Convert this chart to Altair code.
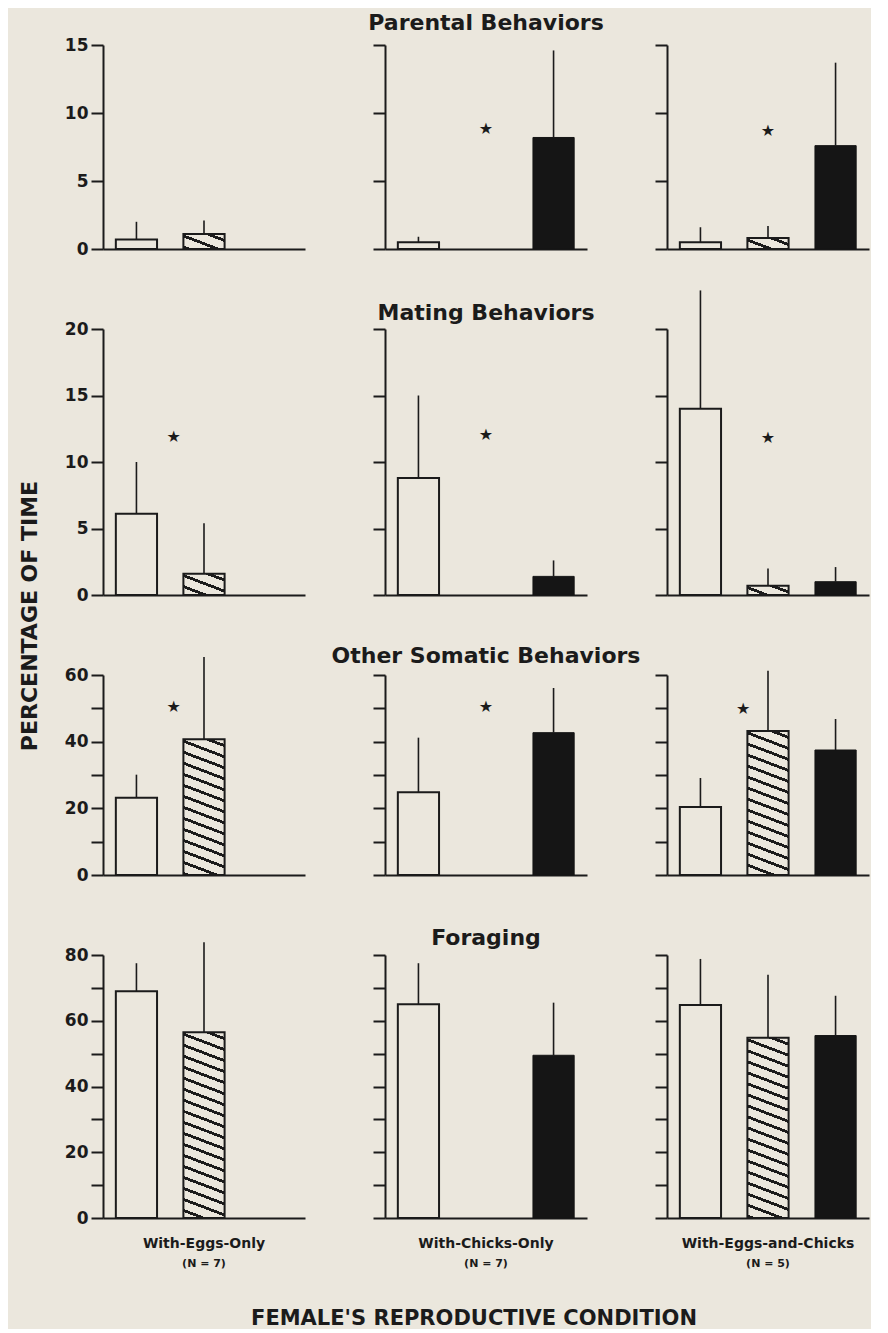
import math
import altair as alt
import pandas as pd

BG = "#ebe7dd"
INK = "#1b1b1b"
FONT = "DejaVu Sans"

ROW_TITLES = ["Parental Behaviors", "Mating Behaviors", "Other Somatic Behaviors", "Foraging"]
COLUMN_LABELS = ["With-Eggs-Only", "With-Chicks-Only", "With-Eggs-and-Chicks"]
COLUMN_N = ["(N = 7)", "(N = 7)", "(N = 5)"]
BAR_KINDS = ["open", "hatched", "solid"]
Y_MAX = [15, 20, 60, 80]
Y_TICK_STEP = [5, 5, 10, 10]
Y_LABEL_STEP = [5, 5, 20, 20]
Y_TITLE = "PERCENTAGE OF TIME"
X_TITLE = "FEMALE'S REPRODUCTIVE CONDITION"

# mean and top of error bar, per column, per bar kind (open, hatched, solid)
parental_mean = [[0.7, 1.1, None], [0.5, None, 8.2], [0.5, 0.8, 7.6]]
parental_upper = [[2.0, 2.1, None], [0.9, None, 14.6], [1.6, 1.7, 13.7]]
mating_mean = [[6.1, 1.6, None], [8.8, None, 1.4], [14.0, 0.7, 1.0]]
mating_upper = [[10.0, 5.4, None], [15.0, None, 2.6], [22.9, 2.0, 2.1]]
somatic_mean = [[23.2, 40.7, None], [24.8, None, 42.7], [20.4, 43.2, 37.5]]
somatic_upper = [[30.1, 65.4, None], [41.2, None, 56.1], [29.1, 61.3, 46.8]]
foraging_mean = [[69.0, 56.5, None], [65.0, None, 49.5], [64.8, 54.8, 55.5]]
foraging_upper = [[77.5, 83.9, None], [77.5, None, 65.5], [78.8, 74.0, 67.6]]

# significance stars: (slot position 0..3, value) per column
parental_star = [None, (1.5, 8.8), (1.5, 8.7)]
mating_star = [(1.05, 11.9), (1.5, 12.0), (1.5, 11.8)]
somatic_star = [(1.05, 50.3), (1.5, 50.3), (1.13, 49.8)]
foraging_star = [None, None, None]

MEANS = [parental_mean, mating_mean, somatic_mean, foraging_mean]
UPPERS = [parental_upper, mating_upper, somatic_upper, foraging_upper]
STARS = [parental_star, mating_star, somatic_star, foraging_star]

# layout (style only)
W = 202
HEIGHTS = [204, 266, 200, 263]
TITLE_GAP = [15, 9, 12, 10]
PAD_IN, PAD_OUT = 0.39, 0.19
STEP = W / (3 - PAD_IN + 2 * PAD_OUT)
BANDW = STEP * (1 - PAD_IN)


def hatch_gradient(w, h, slope=0.38, period=10.3, line=2.8):
    c = (slope * w + h) / (slope ** 2 * w ** 2 + h ** 2)
    x2 = 1 - slope * w * c
    y2 = h * c
    L = (slope * w + h) / math.sqrt(1 + slope ** 2)
    stops = [alt.GradientStop(offset=0, color=BG)]
    p = period * 0.45
    while p < L:
        a = p / L
        b = min((p + line) / L, 1.0)
        stops += [alt.GradientStop(offset=a, color=BG), alt.GradientStop(offset=a, color=INK),
                  alt.GradientStop(offset=b, color=INK), alt.GradientStop(offset=b, color=BG)]
        p += period
    stops.append(alt.GradientStop(offset=1, color=BG))
    return alt.LinearGradient(gradient="linear", stops=stops, x1=1, y1=0, x2=x2, y2=y2)


def text_layer(txt, x, y, size, angle=0, baseline="alphabetic", weight="bold"):
    return alt.Chart(pd.DataFrame({"t": [txt]})).mark_text(
        font=FONT, fontSize=size, fontWeight=weight, color=INK, align="center",
        baseline=baseline, angle=angle
    ).encode(text="t:N", x=alt.value(x), y=alt.value(y))


def panel(r, c):
    H = HEIGHTS[r]
    ymax = Y_MAX[r]
    means, uppers = MEANS[r][c], UPPERS[r][c]
    rows = [{"kind": BAR_KINDS[k], "mean": means[k], "upper": uppers[k]}
            for k in range(3) if means[k] is not None]
    df = pd.DataFrame(rows)
    yscale = alt.Scale(domain=[0, ymax], nice=False, zero=True)
    label_expr = f"datum.value % {Y_LABEL_STEP[r]} == 0 ? datum.label : ''"
    yaxis = alt.Axis(values=list(range(0, ymax + 1, Y_TICK_STEP[r])), labels=(c == 0),
                     labelExpr=label_expr, title=None, grid=False)
    xscale = alt.Scale(domain=BAR_KINDS, paddingInner=PAD_IN, paddingOuter=PAD_OUT)
    x_axis = alt.X("kind:N", scale=xscale,
                   axis=alt.Axis(labels=False, ticks=False, title=None, domain=True))
    x_plain = alt.X("kind:N", scale=xscale, axis=None)
    yenc = alt.Y("mean:Q", scale=yscale, axis=yaxis)
    base = alt.Chart(df)
    layers = []
    layers.append(base.transform_filter(alt.datum.kind == "open").mark_bar(
        fill=BG, stroke=INK, strokeWidth=2).encode(x=x_axis, y=yenc))
    if means[1] is not None:
        hpx = means[1] / ymax * H
        layers.append(base.transform_filter(alt.datum.kind == "hatched").mark_bar(
            fill=hatch_gradient(BANDW, hpx), stroke=INK, strokeWidth=2).encode(x=x_plain, y=yenc))
    if means[2] is not None:
        layers.append(base.transform_filter(alt.datum.kind == "solid").mark_bar(
            fill="#151515", stroke="#151515", strokeWidth=1).encode(x=x_plain, y=yenc))
    layers.append(base.mark_rule(color=INK, strokeWidth=1.6).encode(
        x=x_plain, y=yenc, y2="upper:Q"))
    star = STARS[r][c]
    if star is not None:
        sdf = pd.DataFrame({"pos": [star[0]], "value": [star[1]]})
        layers.append(alt.Chart(sdf).mark_text(text="\u2605", fontSize=16, color=INK, baseline="middle",
                                               font=FONT).encode(
            x=alt.X("pos:Q", scale=alt.Scale(domain=[0, 3], nice=False, zero=False), axis=None),
            y=alt.Y("value:Q", scale=yscale, axis=yaxis)))
    if c == 1:
        layers.append(text_layer(ROW_TITLES[r], W / 2, -TITLE_GAP[r], 22))
    if r == 3:
        layers.append(text_layer(COLUMN_LABELS[c], W / 2, H + 26, 14, baseline="middle"))
        layers.append(text_layer(COLUMN_N[c], W / 2, H + 46, 11, baseline="middle"))
        if c == 1:
            layers.append(text_layer(X_TITLE, W / 2 - 12, H + 101, 21, baseline="middle"))
    if r == 1 and c == 0:
        layers.append(text_layer(Y_TITLE, -73, H + 21, 22, angle=270, baseline="middle"))
    return alt.layer(*layers).resolve_scale(x="independent").properties(width=W, height=H)


panels = [panel(r, c) for r in range(4) for c in range(3)]

chart = alt.concat(*panels, columns=3, spacing=80, bounds="flush", align="each").properties(
    background=BG, padding={"left": 11, "top": 4, "right": 2, "bottom": 0}
).configure_view(stroke=None).configure_axis(
    labelFont=FONT, labelFontWeight="bold", labelFontSize=17, labelColor=INK,
    tickColor=INK, tickWidth=2, tickSize=12, domainColor=INK, domainWidth=2,
    labelPadding=3, grid=False
)

chart.save("out.html", embed_options={"renderer": "svg", "actions": False})
